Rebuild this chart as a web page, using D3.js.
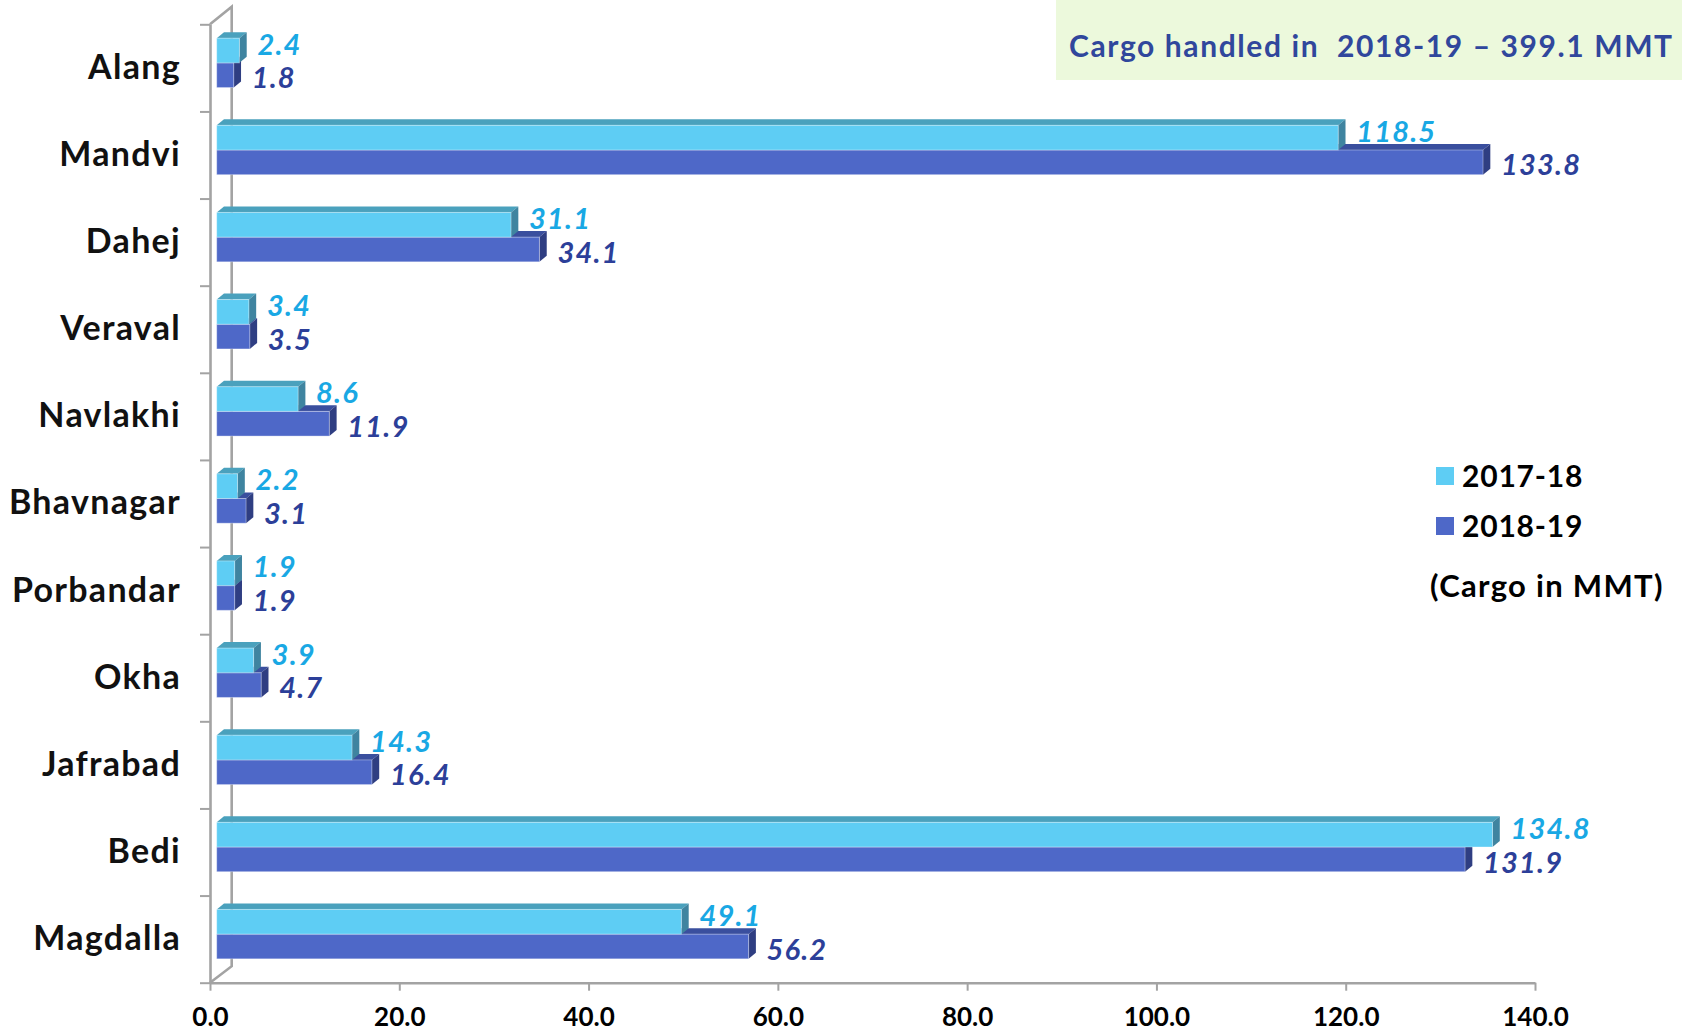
<!DOCTYPE html>
<html>
<head>
<meta charset="utf-8">
<script src="https://cdn.jsdelivr.net/npm/d3@7"></script>
<style>
  body { margin: 0; background: #fff; }
  text { font-family: Lato, "Noto Sans", sans-serif; font-weight: bold; }
</style>
</head>
<body>
<div id="chart"></div>
<script>
// Data
const ports = ["Alang", "Mandvi", "Dahej", "Veraval", "Navlakhi", "Bhavnagar",
               "Porbandar", "Okha", "Jafrabad", "Bedi", "Magdalla"];
const cargo1718 = [2.4, 118.5, 31.1, 3.4, 8.6, 2.2, 1.9, 3.9, 14.3, 134.8, 49.1];
const cargo1819 = [1.8, 133.8, 34.1, 3.5, 11.9, 3.1, 1.9, 4.7, 16.4, 131.9, 56.2];
const seriesNames = ["2017-18", "2018-19"];
const xTicks = [0, 20, 40, 60, 80, 100, 120, 140];
const titleText = "Cargo handled in\u00a0 2018-19 \u2013 399.1 MMT";
const unitText = "(Cargo in MMT)";

const width = 1682, height = 1033;
const axisX = 210, axisTop = 24.3, axisBottom = 982.7;
const wall = {dx: 21.7, dy: -16.5};   // depth of the 3D floor/wall
const front = {dx: 6.7, dy: -5};      // bar front plane shift
const depth = {dx: 7.3, dy: -6};      // bar thickness

const colors = [
    {front: "#5ecdf4", top: "#4aa1bd", side: "#3f84a0", label: "#19a8e4"},
    {front: "#4e68c8", top: "#3a4f9e", side: "#2f3e82", label: "#2c3f99"}
];

const svg = d3.select("#chart")
    .append("svg")
    .attr("width", width)
    .attr("height", height);

// Title box
svg.append("rect")
    .attr("x", 1056).attr("y", 0)
    .attr("width", width - 1056).attr("height", 80)
    .attr("fill", "#ecf9dc");

svg.append("text")
    .attr("x", 1069).attr("y", 57)
    .attr("fill", "#30479c")
    .style("font-size", "30px")
    .style("letter-spacing", "1.6px")
    .text(titleText);

// Scales
const xScale = d3.scaleLinear()
    .domain([0, 140])
    .range([axisX, 1535]);

const yScale = d3.scaleBand()
    .domain(ports)
    .range([axisTop, axisBottom])
    .paddingInner(0.433)
    .paddingOuter(0.2165);

const ySeries = d3.scaleBand()
    .domain([0, 1])
    .range([0, yScale.bandwidth()]);

const yEdges = d3.scaleLinear()
    .domain([0, ports.length])
    .range([axisTop, axisBottom]);

const grey = "#a3a3a3";

// 3D walls
svg.append("path")
    .attr("d", `M${axisX},${axisTop} L${axisX + wall.dx},${axisTop + wall.dy - 1}
        L${axisX + wall.dx},${axisBottom + wall.dy} L${axisX},${axisBottom}`)
    .attr("fill", "none")
    .attr("stroke", grey)
    .attr("stroke-width", 2.6);

// X axis
const xAxis = svg.append("g")
    .attr("transform", `translate(0,${axisBottom})`)
    .call(d3.axisBottom(xScale)
        .tickValues(xTicks)
        .tickFormat(d3.format(".1f"))
        .tickSize(8)
        .tickSizeOuter(0)
        .tickPadding(17));
xAxis.select(".domain").attr("stroke", grey).attr("stroke-width", 2.6);
xAxis.selectAll(".tick line").attr("stroke", grey).attr("stroke-width", 2);
xAxis.selectAll(".tick text")
    .attr("fill", "#000")
    .style("font-size", "26px")
    .style("font-family", "Lato, sans-serif");

// Y axis (tick marks at category edges)
const yAxis = svg.append("g")
    .attr("transform", `translate(${axisX},0)`)
    .call(d3.axisLeft(yEdges)
        .tickValues(d3.range(0, ports.length + 1))
        .tickFormat("")
        .tickSize(10)
        .tickSizeOuter(0));
yAxis.select(".domain").attr("stroke", grey).attr("stroke-width", 2.6);
yAxis.selectAll(".tick line").attr("stroke", grey).attr("stroke-width", 2);

// Category labels
const catAxis = svg.append("g")
    .attr("transform", `translate(${axisX},0)`)
    .call(d3.axisLeft(yScale.copy().paddingInner(0).paddingOuter(0))
        .tickSize(0)
        .tickPadding(29));
catAxis.select(".domain").remove();
catAxis.selectAll(".tick text")
    .attr("fill", "#111")
    .style("font-size", "34px")
    .style("letter-spacing", "1.3px")
    .style("font-family", "Lato, sans-serif");

// Draw one 3D bar
function bar3d(g, x0, x1, y0, h, c) {
    g.append("path")
        .attr("d", `M${x0},${y0} L${x1},${y0} L${x1 + depth.dx},${y0 + depth.dy}
            L${x0 + depth.dx},${y0 + depth.dy} Z`)
        .attr("fill", c.top);
    g.append("path")
        .attr("d", `M${x1},${y0} L${x1 + depth.dx},${y0 + depth.dy}
            L${x1 + depth.dx},${y0 + h + depth.dy} L${x1},${y0 + h} Z`)
        .attr("fill", c.side);
    g.append("rect")
        .attr("x", x0).attr("y", y0)
        .attr("width", x1 - x0).attr("height", h)
        .attr("fill", c.front)
        .attr("stroke", "rgba(255,255,255,0.35)")
        .attr("stroke-width", 1);
}

const bars = svg.append("g");
const series = [cargo1718, cargo1819];

ports.forEach((p, i) => {
    const g = bars.append("g");
    // dark series first so the light bar covers its top face
    [1, 0].forEach(s => {
        const v = series[s][i];
        const x0 = xScale(0) + front.dx;
        const x1 = xScale(v) + front.dx;
        const y0 = yScale(p) + front.dy + ySeries(s);
        bar3d(g, x0, x1, y0, ySeries.bandwidth(), colors[s]);
    });
});

// Value labels
ports.forEach((p, i) => {
    [0, 1].forEach(s => {
        const v = series[s][i];
        const yMid = yScale(p) + front.dy + ySeries(s) + ySeries.bandwidth() / 2;
        svg.append("text")
            .attr("x", xScale(v) + front.dx + 18)
            .attr("y", yMid + (s === 0 ? -6 : 3))
            .attr("dy", "0.35em")
            .attr("fill", colors[s].label)
            .style("font-size", "29px")
            .style("font-style", "italic")
            .style("letter-spacing", "1.2px")
            .text(d3.format(".1f")(v));
    });
});

// Legend
const legend = svg.append("g");
seriesNames.forEach((name, s) => {
    legend.append("rect")
        .attr("x", 1436).attr("y", 467 + s * 50)
        .attr("width", 18).attr("height", 18)
        .attr("fill", colors[s].front);
    legend.append("text")
        .attr("x", 1462).attr("y", 486.5 + s * 50)
        .attr("fill", "#000")
        .style("font-size", "30px")
        .style("letter-spacing", "0.8px")
        .text(name);
});

svg.append("text")
    .attr("x", 1430).attr("y", 597)
    .attr("fill", "#000")
    .style("font-size", "31px")
    .style("letter-spacing", "1.3px")
    .text(unitText);
</script>
</body>
</html>
